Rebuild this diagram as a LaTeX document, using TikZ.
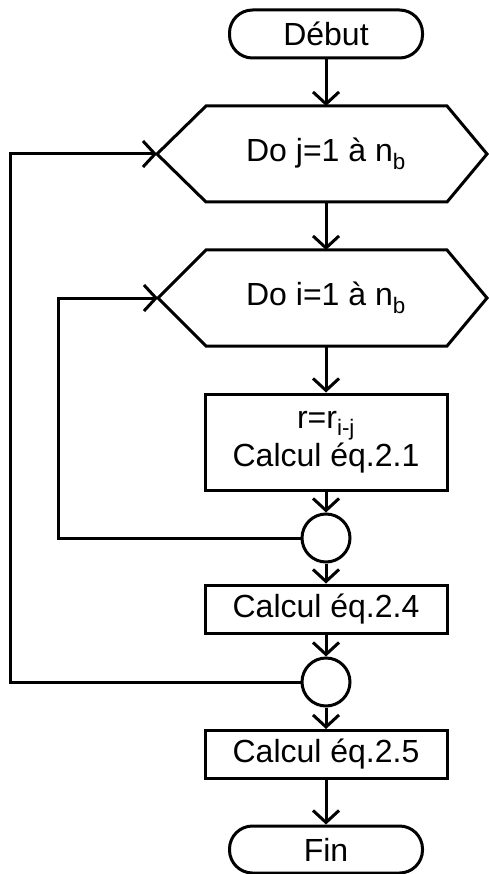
\documentclass[tikz,border=0pt]{standalone}
\usepackage{fontspec}
\setmainfont{Liberation Sans}
\usetikzlibrary{arrows.meta}
\begin{document}
\begin{tikzpicture}[x=1pt,y=-1pt,line width=3pt,
  every node/.style={font=\fontsize{32}{38}\selectfont},
  flow/.style={-{Straight Barb[length=12pt,width=26pt]}},
  box/.style={draw,rectangle,minimum width=242pt,minimum height=48pt,inner sep=0pt},
  term/.style={draw,rectangle,rounded corners=23pt,minimum width=193pt,minimum height=48pt,inner sep=0pt},
  junction/.style={draw,circle,minimum size=48pt,inner sep=0pt}]
\useasboundingbox (0,0) rectangle (488,874);
% nodes
\node[term] (start) at (326,34) {Début};
\node (h1) at (326,154) {Do j=1 à n\textsubscript{b}};
\node (h2) at (326,298) {Do i=1 à n\textsubscript{b}};
\node[box,minimum height=96pt,align=center] (b1) at (326,442) {r=r\textsubscript{i-j}\\Calcul éq.2.1};
\node[junction] (c1) at (326,538) {};
\node[box] (b2) at (326,609) {Calcul éq.2.4};
\node[junction] (c2) at (326,682) {};
\node[box] (b3) at (326,754.5) {Calcul éq.2.5};
\node[term,minimum height=47pt] (fin) at (326,849.5) {Fin};
% hexagon corners
\coordinate (h1w) at (157,154);
\coordinate (h1n) at (326,106);
\coordinate (h1s) at (326,202);
\coordinate (h2w) at (158,298);
\coordinate (h2n) at (326,250);
\coordinate (h2s) at (326,346);
\draw[line join=miter] (h1w) -- (206,106) -- (447,106) -- (487,154) -- (447,202) -- (206,202) -- cycle;
\draw[line join=miter] (h2w) -- (206,250) -- (447,250) -- (487,298) -- (447,346) -- (206,346) -- cycle;
% connectors
\draw[flow] (start.south) -- (h1n);
\draw[flow] (h1s) -- (h2n);
\draw[flow] (h2s) -- (b1.north);
\draw[flow] (b1.south) -- (c1.north);
\draw[flow] (c1.south) -- (b2.north);
\draw[flow] (b2.south) -- (c2.north);
\draw[flow] (c2.south) -- (b3.north);
\draw[flow] (b3.south) -- (fin.north);
\draw[flow] (c1.west) -- ++(-242,0) |- (h2w);
\draw[flow] (c2.west) -- ++(-290,0) |- (h1w);
\end{tikzpicture}
\end{document}
